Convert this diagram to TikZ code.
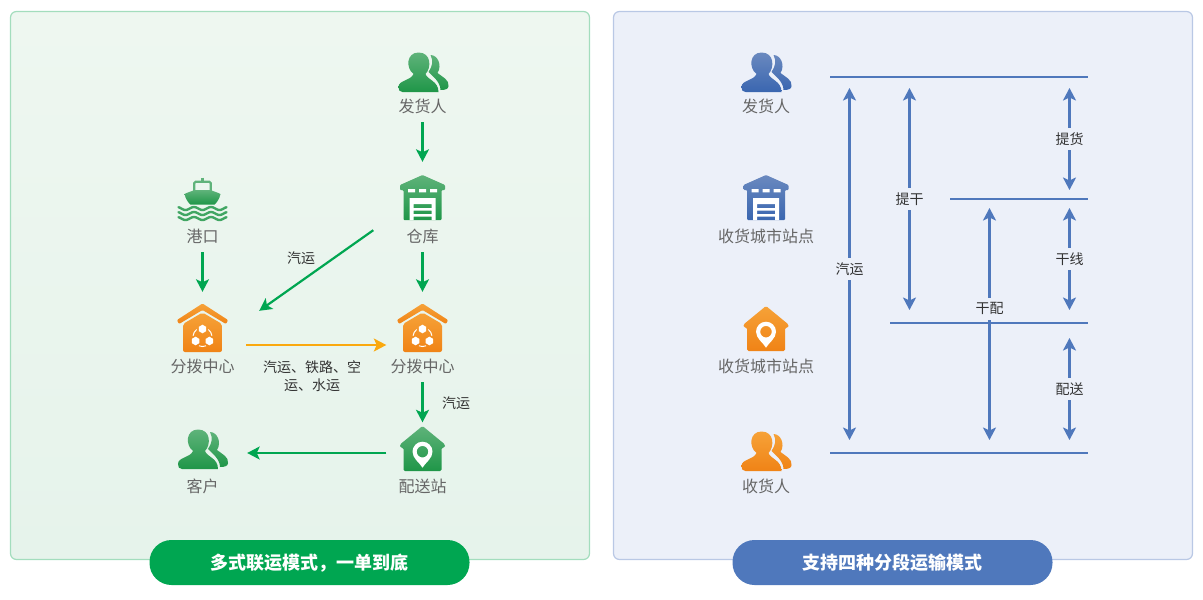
\documentclass[tikz,border=0pt]{standalone}
\usepackage{fontspec}
\setmainfont{Noto Sans CJK SC}
\usetikzlibrary{arrows.meta}
\definecolor{linegreen}{HTML}{00A651}
\definecolor{lineorange}{HTML}{FAA90F}
\definecolor{lineblue}{HTML}{4F78BC}
\definecolor{panelblue}{HTML}{ECF0F9}
\definecolor{panelgreen}{HTML}{A3DDBD}
\definecolor{panelrim}{HTML}{B9C8E5}
\definecolor{labelgray}{HTML}{666666}
\definecolor{tagdark}{HTML}{333333}
\definecolor{iconGa}{HTML}{5FB37A}
\definecolor{iconGb}{HTML}{1F9648}
\definecolor{iconBa}{HTML}{6A89BF}
\definecolor{iconBb}{HTML}{3A66B0}
\definecolor{iconOa}{HTML}{F6A238}
\definecolor{iconOb}{HTML}{F08316}
\tikzset{x=1pt, y=-1pt, >/.tip={Stealth[length=12.5pt,width=13pt,inset=3pt]},
  iconbox/.style={minimum size=72pt, inner sep=0pt},
  caption/.style={minimum height=34pt, inner sep=0pt, text height=15pt, text depth=1pt, text=labelgray, font=\fontsize{16}{16}\selectfont},
  tag/.style={inner sep=0pt, text=tagdark, align=center, font=\fontsize{14}{18}\selectfont},
  linetag/.style={tag, minimum height=22pt, minimum width=30pt, fill=panelblue},
  pill/.style={rounded corners=22pt, minimum width=320pt, minimum height=45pt, inner sep=0pt, text height=15pt, text depth=0.3pt, text=white, font=\fontsize{18}{18}\selectfont\bfseries},
  panelbox/.style={line width=1.2pt, rounded corners=6pt},
  greenarrow/.style={linegreen, line width=2.2pt, ->},
  bluearrow/.style={lineblue, line width=2.2pt},
  greenicon/.style={top color=iconGa, bottom color=iconGb},
  blueicon/.style={top color=iconBa, bottom color=iconBb},
  orangeicon/.style={top color=iconOa, bottom color=iconOb},
  pics/person/.style={code={
    \path[#1] (-24,15) .. controls (-24,8) and (-12,9) .. (-9,2) .. controls (-17,-4) and (-16,-19.5) .. (-4,-19.5)
      .. controls (9,-19.5) and (9,-4) .. (3,2) .. controls (5,8) and (16,9) .. (16,20) -- (-20,20) .. controls (-23,20) and (-24,18) .. (-24,15) -- cycle;
    \path[#1] (8,-17) .. controls (15,-17) and (20,-7) .. (15,1) .. controls (20,5) and (27,8) .. (26,14)
      .. controls (26,17) and (23,18) .. (18,18) .. controls (18,10) and (10,4) .. (6,0) .. controls (10,-6) and (11,-11) .. (8,-17) -- cycle;
  }},
  pics/warehouse/.style={code={
    \path[#1, rounded corners=1pt] (0,-23) -- (22.5,-13) -- (22.5,-8) -- (19,-8) -- (19,22) -- (-19,22) -- (-19,-8) -- (-22.5,-8) -- (-22.5,-13) -- cycle;
    \fill[white] (-14.5,-9) rectangle (-7.5,-5.7) (-3.5,-9) rectangle (3.5,-5.7) (7.5,-9) rectangle (14.5,-5.7);
    \fill[white] (-13,0) rectangle (13,6) (-13,6) rectangle (-9,22) (9,6) rectangle (13,22) (-9,10) rectangle (9,12.7) (-9,16) rectangle (9,18.7);
  }},
  pics/station/.style={code={
    \path[#1, rounded corners=1.5pt] (0,-22.5) -- (22.5,-4) -- (22.5,-1) -- (19,-1) -- (19,22.5) -- (-19,22.5) -- (-19,-1) -- (-22.5,-1) -- (-22.5,-4) -- cycle;
    \fill[white, even odd rule] (0,19.2) .. controls (-3,14) and (-10,10) .. (-10,3.2) arc (180:360:10) .. controls (10,10) and (3,14) .. (0,19.2) -- cycle (0,3.2) circle (5.8);
  }},
  pics/hub/.style={code={
    \path[#1, rounded corners=1pt] (0,-24.5) -- (25.5,-8) -- (23.5,-4) -- (0,-18) -- (-23.5,-4) -- (-25.5,-8) -- cycle;
    \path[#1, rounded corners=2pt] (0,-15.5) -- (19.5,-4) -- (19.5,24) -- (-19.5,24) -- (-19.5,-4) -- cycle;
    \foreach \a in {-90,30,150}
      \fill[white] (\a:8) ++(0,9) ++(-90:4.3) -- ++(30:4.3) -- ++(90:4.3) -- ++(150:4.3) -- ++(210:4.3) -- ++(270:4.3) -- cycle;
    \foreach \a in {-30,90,210}
      \draw[white, line width=1pt] (\a-22:9.5) ++(0,9) arc (\a-22:\a+22:9.5);
  }},
  pics/ship/.style={code={
    \draw[iconGa, line width=2.2pt, rounded corners=1.5pt] (-8.3,-7) -- (-8.3,-16.3) -- (8.3,-16.3) -- (8.3,-7);
    \draw[iconGa, line width=2.2pt] (0,-20.5) -- (0,-17);
    \path[#1] (-18,-4) .. controls (-14,-6) and (-10,-7) .. (-8,-8) -- (8,-8) .. controls (10,-7) and (14,-6) .. (18,-4) .. controls (17,1) and (14,5) .. (12,6.5) -- (-12,6.5) .. controls (-14,5) and (-17,1) .. (-18,-4) -- cycle;
    \foreach \w in {10.5,15.5,20.5}
      \draw[iconGb!85!white, line width=2.4pt, line cap=round] plot[smooth, domain=-24:24, samples=49] (\x,{\w+1.5*sin(\x*21.2+90)});
  }}
}
\begin{document}
\begin{tikzpicture}
\useasboundingbox (0,0) rectangle (1203,600);
\path[panelbox, draw=panelgreen, top color={rgb,255:red,238;green,247;blue,240}, bottom color={rgb,255:red,230;green,243;blue,235}] (10.5,11.5) rectangle (589.5,559.5);
\path[panelbox, draw=panelrim, fill=panelblue] (613.5,11.5) rectangle (1192.5,559.5);
\node[pill, fill=linegreen] (titleL) at (309.5,562.5) {多式联运模式，一单到底};
\node[pill, fill=lineblue] (titleR) at (892.5,562.5) {支持四种分段运输模式};

\node[iconbox] (sender) at (422.5,72) {};
\node[caption] (senderT) at (422.5,105) {发货人};
\node[iconbox] (depot) at (422.5,198) {};
\node[caption] (depotT) at (422.5,235) {仓库};
\node[iconbox] (port) at (202.5,198) {};
\node[caption] (portT) at (202.5,235) {港口};
\node[iconbox] (hubA) at (202.5,328) {};
\node[caption] (hubAT) at (202.5,365) {分拨中心};
\node[iconbox] (hubB) at (422.5,328) {};
\node[caption] (hubBT) at (422.5,365) {分拨中心};
\node[iconbox] (client) at (202,449) {};
\node[caption] (clientT) at (202.5,485) {客户};
\node[iconbox] (station) at (422.5,448.5) {};
\node[caption] (stationT) at (422.5,485) {配送站};
\node[tag] (truckA) at (301,258) {汽运};
\node[tag] (truckB) at (456,403) {汽运};
\node[tag] (modes) at (312,376) {汽运、铁路、空\\运、水运};

\pic at (sender) {person=greenicon};
\pic at (depot) {warehouse=greenicon};
\pic at (port) {ship=greenicon};
\pic at (hubA) {hub=orangeicon};
\pic at (hubB) {hub=orangeicon};
\pic at (client) {person=greenicon};
\pic at (station) {station=greenicon};

\draw[greenarrow] (senderT) to (depot);
\draw[greenarrow] (portT) to (hubA);
\draw[greenarrow] (depotT) to (hubB);
\draw[greenarrow, shorten >=-10pt] (hubBT) to (station);
\draw[greenarrow] ([shift={(-13,-4)}]depot.south west) to ([shift={(20.5,19)}]hubA.north east);
\draw[greenarrow, shorten >=9pt] ([shift={(0,4.5)}]station.west) to ([shift={(0,4)}]client.east);
\draw[lineorange, line width=2.2pt, ->, shorten <=7.5pt] ([shift={(0,17)}]hubA.east) to ([shift={(0,17)}]hubB.west);

\node[iconbox] (senderR) at (765.5,72) {};
\node[caption] (senderRT) at (766,105) {发货人};
\node[iconbox] (cityA) at (766,198) {};
\node[caption] (cityAT) at (766,235) {收货城市站点};
\node[iconbox] (cityB) at (766,328.5) {};
\node[caption] (cityBT) at (766,365) {收货城市站点};
\node[iconbox] (receiver) at (765.5,451) {};
\node[caption] (receiverT) at (766,485) {收货人};
\pic at (senderR) {person=blueicon};
\pic at (cityA) {warehouse=blueicon};
\pic at (cityB) {station=orangeicon};
\pic at (receiver) {person=orangeicon};

\coordinate (railAl) at (830,77);
\coordinate (railAr) at (1088,77);
\coordinate (railBl) at (950,199);
\coordinate (railBr) at (1088,199);
\coordinate (railCl) at (890,323);
\coordinate (railCr) at (1088,323);
\coordinate (railDl) at (830,453);
\coordinate (railDr) at (1088,453);
\draw[bluearrow] (railAl) to (railAr);
\draw[bluearrow] (railBl) to (railBr);
\draw[bluearrow] (railCl) to (railCr);
\draw[bluearrow] (railDl) to (railDr);

\coordinate (longT) at (849.5,88);
\coordinate (longB) at (849.5,440);
\coordinate (pickT) at (909.5,88);
\coordinate (pickB) at (909.5,310);
\coordinate (mainT) at (989.5,208);
\coordinate (mainB) at (989.5,440);
\coordinate (hopAT) at (1069.5,88);
\coordinate (hopAB) at (1069.5,190);
\coordinate (hopBT) at (1069.5,208);
\coordinate (hopBB) at (1069.5,310);
\coordinate (hopCT) at (1069.5,338);
\coordinate (hopCB) at (1069.5,440);
\draw[bluearrow, <->] (longT) to node[linetag, pos=0.514] (longL) {汽运} (longB);
\draw[bluearrow, <->] (pickT) to node[linetag] (pickL) {提干} (pickB);
\draw[bluearrow, <->] (mainT) to node[linetag, pos=0.435] (mainL) {干配} (mainB);
\draw[bluearrow, <->] (hopAT) to node[linetag] (hopAL) {提货} (hopAB);
\draw[bluearrow, <->] (hopBT) to node[linetag] (hopBL) {干线} (hopBB);
\draw[bluearrow, <->] (hopCT) to node[linetag] (hopCL) {配送} (hopCB);
\end{tikzpicture}
\end{document}
